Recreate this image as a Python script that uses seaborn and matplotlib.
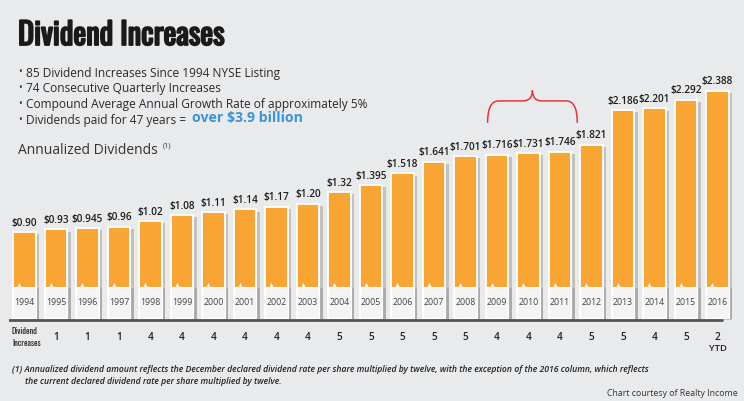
import matplotlib
matplotlib.use("Agg")
import matplotlib.pyplot as plt
import matplotlib.patheffects as pe
from matplotlib.path import Path
from matplotlib.patches import PathPatch
from matplotlib import font_manager
import seaborn as sns
import pandas as pd
import numpy as np

years = ["1994", "1995", "1996", "1997", "1998", "1999", "2000", "2001", "2002", "2003",
         "2004", "2005", "2006", "2007", "2008", "2009", "2010", "2011", "2012", "2013",
         "2014", "2015", "2016"]
dividends = [0.90, 0.93, 0.945, 0.96, 1.02, 1.08, 1.11, 1.14, 1.17, 1.20,
             1.32, 1.395, 1.518, 1.641, 1.701, 1.716, 1.731, 1.746, 1.821, 2.186,
             2.201, 2.292, 2.388]
div_labels = ["$0.90", "$0.93", "$0.945", "$0.96", "$1.02", "$1.08", "$1.11", "$1.14",
              "$1.17", "$1.20", "$1.32", "$1.395", "$1.518", "$1.641", "$1.701", "$1.716",
              "$1.731", "$1.746", "$1.821", "$2.186", "$2.201", "$2.292", "$2.388"]
# 1994 column carries the row label instead of a count
increases = ["", "1", "1", "1", "4", "4", "4", "4", "4", "4", "5", "5", "5", "5", "5",
             "4", "4", "4", "5", "5", "4", "5", "2"]
bullets = ["85 Dividend Increases Since 1994 NYSE Listing",
           "74 Consecutive Quarterly Increases",
           "Compound Average Annual Growth Rate of approximately 5%",
           "Dividends paid for 47 years = "]
highlight = "over $3.9 billion"

sns.set_theme(style="white")
plt.rcParams['font.family'] = ['Open Sans', 'DejaVu Sans']

installed = {f.name for f in font_manager.fontManager.ttflist}
cond_family = "Roboto"
for cand in ["Oswald", "Roboto Condensed", "Liberation Sans Narrow", "DejaVu Sans Condensed",
             "Open Sans Condensed", "Noto Sans Condensed"]:
    if cand in installed:
        cond_family = cand
        break
is_condensed = cond_family != "Roboto"

W, H = 744, 401
fig = plt.figure(figsize=(W / 100, H / 100), dpi=100)
bg = "#E9EAEC"
fig.patch.set_facecolor(bg)

def fx(px):
    return px / W

def fy(py):
    return 1 - py / H

x0 = 24.5 - 0.5 * 31.5
x1 = 24.5 + 22.5 * 31.5
ymin, ymax = -0.05, 2.6
ppu = 95.2
ybot = 318 + (-ymin) * ppu
ytop = 318 - ymax * ppu
ax = fig.add_axes([fx(x0), fy(ybot), fx(x1 - x0), (ybot - ytop) / H])
ax.set_facecolor("none")
ax.patch.set_alpha(0)

df = pd.DataFrame({"year": years, "dividend": dividends})
sns.barplot(data=df, x="year", y="dividend", order=years, color="#F9A533",
            saturation=1, width=0.73, edgecolor="white", linewidth=1.3, ax=ax, zorder=2)
for p in ax.patches:
    p.set_path_effects([pe.SimplePatchShadow(offset=(2.5, -1.5), shadow_rgbFace="#9a9a9a", alpha=0.5),
                        pe.Normal()])

n = len(years)
panel_h = 0.33
xs = np.arange(n)
panels = ax.bar(xs, [panel_h] * n, width=0.73, color="#F3F4F5", edgecolor="#FFFFFF",
                linewidth=0.8, zorder=3)
for p in panels:
    p.set_path_effects([pe.SimplePatchShadow(offset=(2.5, -1.0), shadow_rgbFace="#9a9a9a", alpha=0.55),
                        pe.Normal()])
ax.scatter(xs - 0.17, [panel_h + 0.015] * n, marker="^", s=14, color="#F3F4F5",
           zorder=4, linewidths=0)

for i, (v, lab, yr) in enumerate(zip(dividends, div_labels, years)):
    ax.text(i, v + 0.035, lab, ha="center", va="bottom", fontsize=7.2, color="#1E1E1E",
            fontweight="semibold", zorder=5)
    ax.text(i, 0.16, yr, ha="center", va="center", fontsize=6.3, color="#444444", zorder=5)
    if increases[i]:
        ax.text(i, -0.2, increases[i], ha="center", va="center", fontsize=7.2, color="#222222",
                fontweight="semibold", clip_on=False)
ax.text(n - 1, -0.32, "YTD", ha="center", va="center", fontsize=6.8, color="#222222",
        fontweight="semibold", clip_on=False)

ax.axhline(-0.022, xmin=0.0, xmax=0.985, color="#555555", lw=2.0, zorder=6)

ax.set_xlim(-0.5, 22.5)
ax.set_ylim(ymin, ymax)
ax.axis("off")

# brace over 2009-2011
bx0, bx1 = 14.7, 17.55
bxm = (bx0 + bx1) / 2
ylo, yhi = 2.05, 2.39
ym = 2.28
verts = [(bx0, ylo), (bx0, ym), (bx0 + 0.35, ym),
         (bxm - 0.3, ym), (bxm, ym), (bxm, yhi),
         (bxm, ym), (bxm + 0.3, ym),
         (bx1 - 0.35, ym), (bx1, ym), (bx1, ylo)]
codes = [Path.MOVETO, Path.CURVE3, Path.CURVE3,
         Path.LINETO, Path.CURVE3, Path.CURVE3,
         Path.CURVE3, Path.CURVE3,
         Path.LINETO, Path.CURVE3, Path.CURVE3]
ax.add_patch(PathPatch(Path(verts, codes), facecolor="none", edgecolor="#E8333A",
                       lw=1.1, clip_on=False, zorder=6))

# title
title_size = 22 if is_condensed else 19
fig.text(fx(18), fy(35.5), "Dividend Increases", fontsize=title_size, fontweight="bold",
         family=[cond_family, "DejaVu Sans"], color="#1A1A1A",
         va="center", ha="left",
         path_effects=[pe.withStroke(linewidth=1.3, foreground="#1A1A1A")])
for k, b in enumerate(bullets):
    yy = 73 + k * 15.7
    fig.text(fx(18), fy(yy), "•", fontsize=7, color="#333333", va="center")
    fig.text(fx(26), fy(yy), b, fontsize=8.55, color="#2A2A2A", va="center")
fig.text(fx(192), fy(118), highlight, fontsize=10.2, fontweight="bold",
         color="#3B93DB", va="center")

fig.text(fx(18), fy(151), "Annualized Dividends", fontsize=10.0, color="#333333", va="center")
fig.text(fx(163), fy(146), "(1)", fontsize=5.2, color="#333333", va="center")

lab_size = 6.0 if is_condensed else 5.2
fig.text(fx(12), fy(330.5), "Dividend", fontsize=lab_size, color="#222222", va="center",
         fontweight="bold", family=[cond_family, "DejaVu Sans"])
fig.text(fx(12), fy(342.5), "Increases", fontsize=lab_size, color="#222222", va="center",
         fontweight="bold", family=[cond_family, "DejaVu Sans"])

fig.text(fx(12), fy(370), "(1) Annualized dividend amount reflects the December declared dividend rate per share multiplied by twelve, with the exception of the 2016 column, which reflects",
         fontsize=6.2, style="italic", color="#222222", va="center", fontweight="semibold")
fig.text(fx(25), fy(382), "the current declared dividend rate per share multiplied by twelve.",
         fontsize=6.2, style="italic", color="#222222", va="center", fontweight="semibold")
fig.text(fx(738), fy(394), "Chart courtesy of Realty Income", fontsize=6.3, color="#333333",
         va="center", ha="right")

fig.savefig("out.png", dpi=100, facecolor=bg)
